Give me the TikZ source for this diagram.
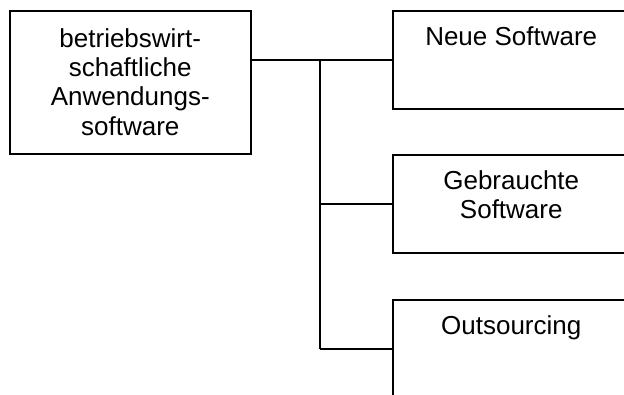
\documentclass[tikz,border=0pt]{standalone}
\usepackage{fontspec}
\setmainfont{Liberation Sans}
\begin{document}
\begin{tikzpicture}[x=1pt,y=-1pt,
  frame/.style={draw, line width=1.5pt, inner sep=0pt, anchor=north west},
  leftframe/.style={frame, minimum width=241pt, minimum height=143pt},
  rightframe/.style={frame, minimum width=237pt, minimum height=98pt},
  caption/.style={anchor=north, inner sep=0pt, align=center,
    font=\fontsize{26}{29.2}\selectfont},
  link/.style={line width=1.5pt}]
\useasboundingbox (0,0) rectangle (624,394);
\clip (0,0) rectangle (624,394);

% boxes
\node[leftframe]  (root) at (9,10) {};
\node[rightframe] (neu)  at (392,10) {};
\node[rightframe] (geb)  at (392,154) {};
\node[rightframe] (out)  at (392,299) {};

% texts
\node[caption] (troot) at ([yshift=-18.5pt]root.north)
  {betriebswirt-\\schaftliche\\Anwendungs-\\software};
\node[caption] (tneu) at ([yshift=-16.5pt]neu.north) {Neue Software};
\node[caption] (tgeb) at ([yshift=-16.5pt]geb.north) {Gebrauchte\\Software};
\node[caption] (tout) at ([yshift=-16.5pt]out.north) {Outsourcing};

% connectors
\coordinate (bus) at (320,0);
\draw[link] (neu.west) -- (neu.west -| root.east);
\draw[link] (bus |- neu.west) -- (bus |- out.west);
\draw[link] (bus |- geb.west) -- (geb.west);
\draw[link] (bus |- out.west) -- (out.west);
\end{tikzpicture}
\end{document}
